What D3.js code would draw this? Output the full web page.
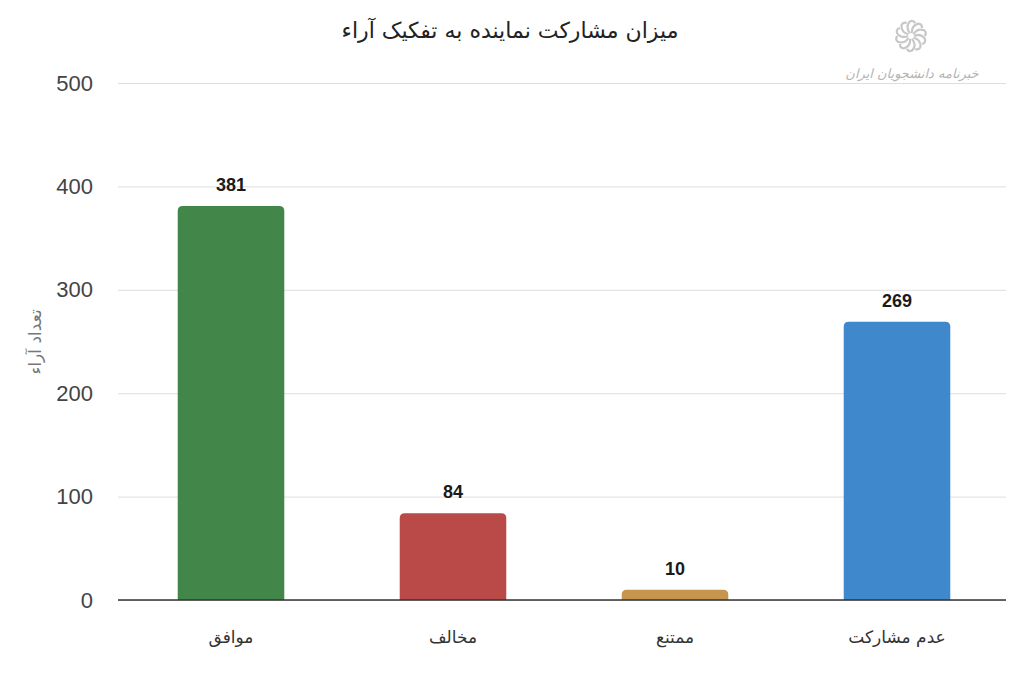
<!DOCTYPE html>
<html>
<head>
<meta charset="utf-8">
<script src="https://cdn.jsdelivr.net/npm/d3@7"></script>
<style>
  body { margin: 0; background: #fff; }
  svg { display: block; }
</style>
</head>
<body>
<div id="chart"></div>
<script>
// data
var categories = ["موافق", "مخالف", "ممتنع", "عدم مشارکت"],
    votes = [381, 84, 10, 269],
    barColors = ["#43864a", "#b94a48", "#c6954e", "#3f88cb"],
    yTicks = [0, 100, 200, 300, 400, 500];

var TITLE = "میزان مشارکت نماینده به تفکیک آراء",
    Y_LABEL = "تعداد آراء",
    LOGO_TEXT = "خبرنامه دانشجویان ایران";

var W = 1024, H = 683,
    LEFT = 118, RIGHT = 1006,
    TOP = 83, BOTTOM = 600,
    R = 5;

var svg = d3.select("#chart").append("svg")
  .attr("width", W)
  .attr("height", H);

var x = d3.scaleBand()
  .domain(categories)
  .range([LEFT + 2, RIGHT + 2])
  .paddingInner(0.52)
  .paddingOuter(0.26);

var y = d3.scaleLinear()
  .domain([0, 500])
  .range([BOTTOM, TOP]);

// grid + tick labels
var yAxis = d3.axisLeft(y)
  .tickValues(yTicks)
  .tickSize(-(RIGHT - LEFT))
  .tickPadding(25);

var gy = svg.append("g")
  .attr("transform", "translate(" + LEFT + ",0)")
  .call(yAxis);
gy.select(".domain").remove();
gy.selectAll(".tick line").attr("stroke", "#dedede").attr("stroke-width", 1);
gy.selectAll(".tick text")
  .attr("fill", "#444")
  .style("font-family", "'Liberation Sans', Arial, sans-serif")
  .style("font-size", "22px");

// bars, top corners rounded
function barPath(d, i) {
  var x0 = x(categories[i]), w = x.bandwidth(),
      y0 = y(d), y1 = y(0), r = Math.min(R, (y1 - y0));
  return "M" + x0 + "," + y1 +
    "V" + (y0 + r) +
    "Q" + x0 + "," + y0 + " " + (x0 + r) + "," + y0 +
    "H" + (x0 + w - r) +
    "Q" + (x0 + w) + "," + y0 + " " + (x0 + w) + "," + (y0 + r) +
    "V" + y1 + "Z";
}

svg.append("g").selectAll("path")
  .data(votes)
  .join("path")
  .attr("d", barPath)
  .attr("fill", function(d, i) { return barColors[i]; });

// value labels
svg.append("g").selectAll("text")
  .data(votes)
  .join("text")
  .attr("x", function(d, i) { return x(categories[i]) + x.bandwidth() / 2; })
  .attr("y", function(d) { return y(d) - 15; })
  .attr("text-anchor", "middle")
  .attr("fill", "#1a1a1a")
  .style("font-family", "'Liberation Sans', Arial, sans-serif")
  .style("font-weight", "bold")
  .style("font-size", "18px")
  .text(function(d) { return d; });

// baseline
svg.append("line")
  .attr("x1", LEFT).attr("x2", RIGHT)
  .attr("y1", y(0)).attr("y2", y(0))
  .attr("stroke", "#333")
  .attr("stroke-width", 1.5);

// category labels
svg.append("g").selectAll("text")
  .data(categories)
  .join("text")
  .attr("x", function(d) { return x(d) + x.bandwidth() / 2; })
  .attr("y", 643)
  .attr("text-anchor", "middle")
  .attr("fill", "#333")
  .style("font-family", "'DejaVu Sans', sans-serif")
  .style("font-size", "17px")
  .text(function(d) { return d; });

// title
svg.append("text")
  .attr("x", 510)
  .attr("y", 38)
  .attr("text-anchor", "middle")
  .attr("fill", "#222")
  .style("font-family", "'DejaVu Sans', sans-serif")
  .style("font-size", "22px")
  .text(TITLE);

// y axis label
svg.append("text")
  .attr("transform", "translate(41,342) rotate(-90)")
  .attr("text-anchor", "middle")
  .attr("fill", "#777")
  .style("font-family", "'DejaVu Sans', sans-serif")
  .style("font-size", "17px")
  .text(Y_LABEL);

// watermark logo (swirl + name)
var logo = svg.append("g")
  .attr("transform", "translate(911,36)")
  .attr("fill", "none")
  .attr("stroke", "#c8c8c8")
  .attr("stroke-width", 2.2);
d3.range(10).forEach(function(k) {
  logo.append("path")
    .attr("d", "M3,0 Q10,-3 14,3 Q15,7 11,8")
    .attr("transform", "rotate(" + k * 36 + ")");
});
svg.append("text")
  .attr("x", 912)
  .attr("y", 78)
  .attr("text-anchor", "middle")
  .attr("fill", "#b5b5b5")
  .style("font-family", "'DejaVu Sans', sans-serif")
  .style("font-style", "italic")
  .style("font-size", "13px")
  .text(LOGO_TEXT);
</script>
</body>
</html>
